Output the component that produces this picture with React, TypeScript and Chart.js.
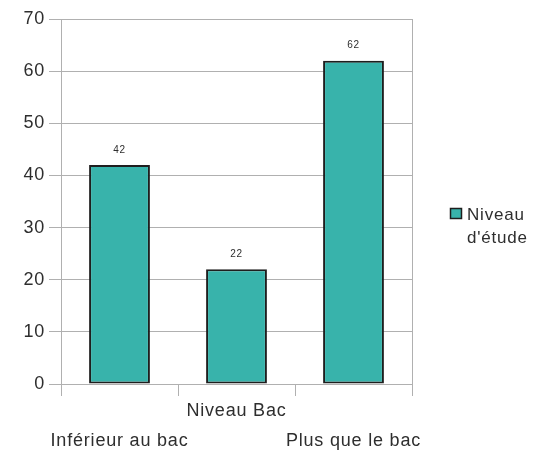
import React, { useEffect, useRef } from "react";
import { Chart, registerables } from "chart.js";

Chart.register(...registerables);

const categories: (string | string[])[] = [["", "Inférieur au bac"], "Niveau Bac", ["", "Plus que le bac"]];
const seriesLabel = "Niveau d'étude";
const seriesValues = [42, 22, 62];
const yTicks = { min: 0, max: 70, step: 10 };

const TEAL = "#38b3ab";
const EDGE = "#1e1e1e";
const GRID = "#b0b0b0";
const TEXT = "#2e2e2e";
const FONT = "'Liberation Sans', Arial, sans-serif";

const spacing = {
  id: "spacing",
  beforeDraw(chart: any) {
    (chart.ctx as any).letterSpacing = "0.8px";
  },
};

const extras = {
  id: "extras",
  afterDatasetsDraw(chart: any) {
    const ctx = chart.ctx;
    const area = chart.chartArea;
    ctx.save();
    // right border
    ctx.strokeStyle = GRID;
    ctx.lineWidth = 1;
    ctx.beginPath();
    ctx.moveTo(Math.round(area.right) + 0.5, area.top);
    ctx.lineTo(Math.round(area.right) + 0.5, area.bottom);
    ctx.stroke();
    // value labels
    const meta = chart.getDatasetMeta(0);
    ctx.fillStyle = TEXT;
    ctx.font = `10px ${FONT}`;
    ctx.textAlign = "center";
    ctx.textBaseline = "middle";
    meta.data.forEach((bar: any, i: number) => {
      ctx.fillText(String(chart.data.datasets[0].data[i]), bar.x, bar.y - 15);
    });
    // legend
    const lx = 450;
    const ly = 208;
    ctx.fillStyle = TEAL;
    ctx.fillRect(lx, ly, 12, 11);
    ctx.strokeStyle = EDGE;
    ctx.lineWidth = 1.5;
    ctx.strokeRect(lx + 0.5, ly + 0.5, 11, 10);
    ctx.fillStyle = TEXT;
    ctx.font = `17px ${FONT}`;
    ctx.textAlign = "left";
    ctx.textBaseline = "middle";
    const label: string = chart.data.datasets[0].label;
    const words = label.split(" ");
    words.forEach((w: string, i: number) => {
      ctx.fillText(w, 467, 215 + i * 23);
    });
    ctx.restore();
  },
};

export default function App() {
  const ref = useRef<HTMLCanvasElement | null>(null);
  useEffect(() => {
    if (!ref.current) return;
    const chart = new Chart(ref.current, {
      type: "bar",
      data: {
        labels: categories,
        datasets: [
          {
            label: seriesLabel,
            data: seriesValues,
            backgroundColor: TEAL,
            borderColor: EDGE,
            borderWidth: 2,
            borderSkipped: false,
            barPercentage: 0.52,
            categoryPercentage: 1,
          },
        ],
      },
      options: {
        responsive: false,
        animation: false,
        layout: { padding: { top: 19, right: 122, left: 0, bottom: 0 } },
        plugins: {
          legend: { display: false },
          tooltip: { enabled: false },
        },
        scales: {
          x: {
            grid: {
              offset: true,
              drawOnChartArea: false,
              drawTicks: true,
              tickLength: 12,
              color: GRID,
            },
            border: { display: true, color: GRID },
            ticks: {
              color: TEXT,
              font: { family: FONT, size: 18, lineHeight: 1.667 },
              padding: 0,
              maxRotation: 0,
              autoSkip: false,
            },
            afterFit(scale: any) {
              scale.height = 70;
            },
          },
          y: {
            min: yTicks.min,
            max: yTicks.max,
            grid: { color: GRID, tickLength: 12 },
            border: { display: true, color: GRID },
            ticks: {
              stepSize: yTicks.step,
              color: TEXT,
              font: { family: FONT, size: 18 },
              padding: 4,
            },
            afterFit(scale: any) {
              scale.width = 61;
            },
          },
        },
      },
      plugins: [spacing, extras],
    });
    return () => chart.destroy();
  }, []);
  return (
    <div style={{ position: "fixed", left: 0, top: 0, width: 534, height: 454, background: "#fff" }}>
      <canvas ref={ref} width={534} height={454} style={{ width: 534, height: 454 }} />
    </div>
  );
}
